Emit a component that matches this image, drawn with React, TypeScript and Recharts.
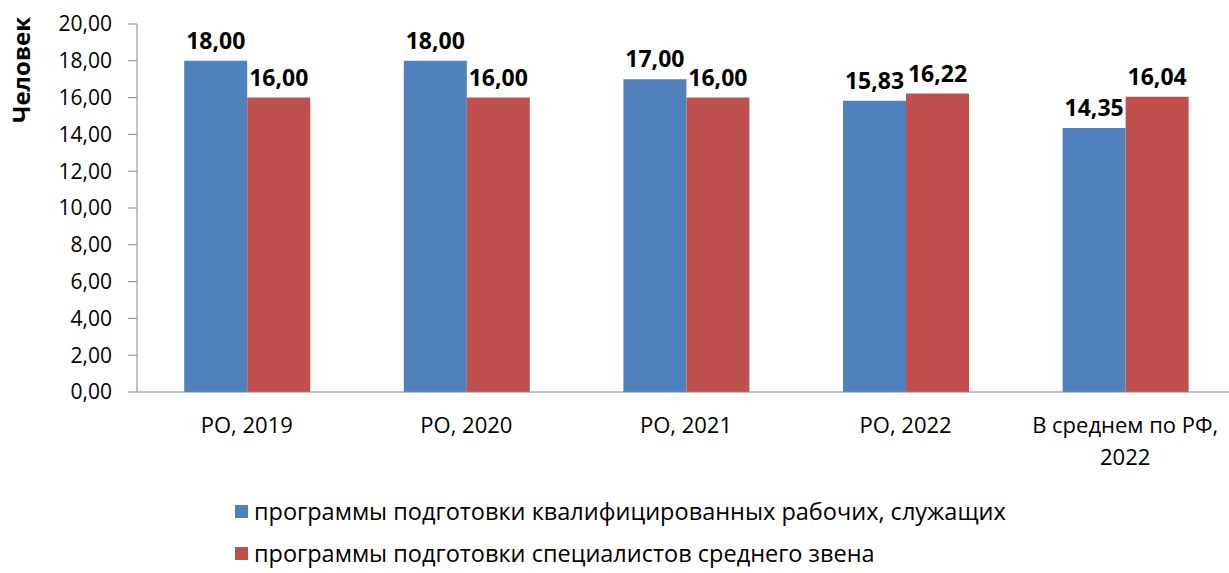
import React from "react";
import { BarChart, Bar, XAxis, YAxis, Legend, LabelList, Label } from "recharts";

const categories = ["РО, 2019", "РО, 2020", "РО, 2021", "РО, 2022", "В среднем по РФ, 2022"];
const workersValues = [18.0, 18.0, 17.0, 15.83, 14.35];
const specialistsValues = [16.0, 16.0, 16.0, 16.22, 16.04];
const yTicks = [0, 2, 4, 6, 8, 10, 12, 14, 16, 18, 20];
const boundaryTicks = [0, 1, 2, 3, 4, 5];
const seriesNames = [
  "программы подготовки квалифицированных рабочих, служащих",
  "программы подготовки специалистов среднего звена",
];
const colors = ["#4F81BD", "#C0504D"];

const data = categories.map((c, i) => ({
  name: c,
  workers: workersValues[i],
  specialists: specialistsValues[i],
}));

const FONT = "'Open Sans', sans-serif";
const AXIS = "#868686";
const fmt = (v: number) => v.toFixed(2).replace(".", ",");

const XTick = (props: any) => {
  const { x, y, payload } = props;
  const label: string = String(payload.value);
  let lines = [label];
  if (label.length > 12) {
    const idx = label.lastIndexOf(", ");
    lines = [label.slice(0, idx + 1), label.slice(idx + 2)];
  }
  return (
    <text x={x} y={y} textAnchor="middle" fontSize={22} fontFamily={FONT} fill="#000">
      {lines.map((l, i) => (
        <tspan key={i} x={x} dy={i === 0 ? 41 : 32}>
          {l}
        </tspan>
      ))}
    </text>
  );
};

const LegendContent = (props: any) => {
  const payload = props.payload || [];
  return (
    <div style={{ fontFamily: FONT, fontSize: 23.5, color: "#000", lineHeight: "26px" }}>
      {payload.map((p: any, i: number) => (
        <div
          key={i}
          style={{ display: "flex", alignItems: "center", height: 26, marginTop: i === 0 ? 0 : 16, whiteSpace: "nowrap" }}
        >
          <span style={{ display: "inline-block", width: 13, height: 13, background: p.color, marginRight: 6 }} />
          <span>{p.value}</span>
        </div>
      ))}
    </div>
  );
};

export default function App() {
  return (
    <div style={{ position: "absolute", left: 0, top: 0, width: 1229, height: 573, overflow: "hidden", background: "#fff" }}>
      <BarChart
        width={1235}
        height={573}
        data={data}
        margin={{ top: 24, right: 0, left: 47, bottom: 111 }}
        barCategoryGap="21.5%"
        barGap={0}
      >
        <XAxis
          xAxisId="b"
          type="number"
          domain={[0, 5]}
          ticks={boundaryTicks}
          tick={false}
          tickSize={8}
          axisLine={false}
          tickLine={{ stroke: AXIS }}
          height={0}
          allowDataOverflow
        />
        <XAxis
          xAxisId="cat"
          dataKey="name"
          type="category"
          tick={<XTick />}
          tickLine={false}
          tickSize={0}
          tickMargin={0}
          axisLine={{ stroke: AXIS }}
          height={70}
          interval={0}
        />
        <YAxis
          domain={[0, 20]}
          ticks={yTicks}
          width={90}
          tickSize={9}
          tickMargin={16}
          tickLine={{ stroke: AXIS }}
          axisLine={{ stroke: AXIS }}
          tickFormatter={fmt}
          tick={{ fontSize: 21, fontFamily: FONT, fill: "#000" }}
          interval={0}
        >
          <Label
            content={() => (
              <text
                x={30}
                y={70}
                transform="rotate(-90 30 70)"
                textAnchor="middle"
                fontSize={24}
                fontWeight="bold"
                fontFamily={FONT}
                fill="#000"
              >
                Человек
              </text>
            )}
          />
        </YAxis>
        <Legend
          layout="vertical"
          align="center"
          verticalAlign="middle"
          wrapperStyle={{ left: 235, top: 498, width: 990 }}
          content={<LegendContent />}
        />
        <Bar xAxisId="cat" dataKey="workers" name={seriesNames[0]} fill={colors[0]} isAnimationActive={false}>
          <LabelList
            dataKey="workers"
            position="top"
            offset={12}
            formatter={(v: any) => fmt(Number(v))}
            style={{ fontSize: 23, fontWeight: "bold", fontFamily: FONT, fill: "#000" }}
          />
        </Bar>
        <Bar xAxisId="cat" dataKey="specialists" name={seriesNames[1]} fill={colors[1]} isAnimationActive={false}>
          <LabelList
            dataKey="specialists"
            position="top"
            offset={12}
            formatter={(v: any) => fmt(Number(v))}
            style={{ fontSize: 23, fontWeight: "bold", fontFamily: FONT, fill: "#000" }}
          />
        </Bar>
      </BarChart>
    </div>
  );
}
